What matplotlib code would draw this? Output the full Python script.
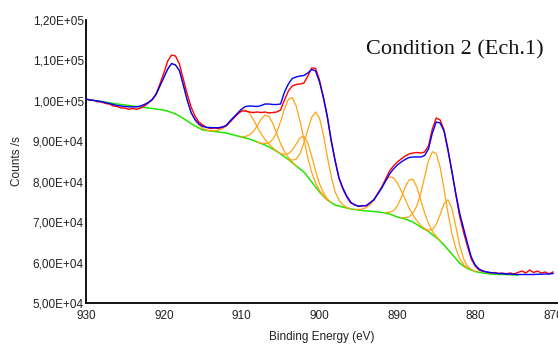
import numpy as np
import matplotlib
matplotlib.use('Agg')
import matplotlib.pyplot as plt
from matplotlib.ticker import FuncFormatter

# Binding energy axis, 0.5 eV steps from 930 down to 870 eV
energy = np.linspace(930, 870, 121)

# Measured spectrum (x1000 counts/s)
raw = [100.46, 100.14, 100.16, 99.77, 99.74, 99.35, 99.22, 98.73, 98.60, 98.23,
       98.23, 97.91, 98.11, 97.91, 98.23, 98.73, 99.47, 100.21, 101.70, 104.17,
       106.89, 109.86, 111.34, 111.09, 109.12, 105.41, 101.70, 98.48, 96.25, 94.77,
       94.03, 93.41, 93.16, 93.29, 93.16, 93.41, 93.78, 94.77, 95.76, 96.75,
       97.49, 97.49, 97.24, 97.12, 97.24, 97.12, 97.24, 97.00, 97.12, 97.24,
       97.74, 100.21, 102.44, 103.67, 104.05, 104.17, 104.42, 106.15, 108.13, 108.00,
       105.16, 100.71, 96.01, 90.07, 85.12, 80.92, 78.20, 76.22, 74.74, 74.36,
       73.87, 74.12, 73.99, 74.86, 75.48, 77.21, 78.69, 80.67, 82.65, 83.89,
       84.88, 85.62, 86.36, 86.86, 87.10, 87.23, 87.10, 87.35, 88.83, 93.04,
       95.76, 95.27, 92.79, 88.09, 82.65, 76.96, 71.52, 67.56, 64.10, 60.88,
       59.15, 58.16, 57.79, 57.67, 57.42, 57.54, 57.30, 57.42, 57.17, 57.42,
       57.17, 57.54, 57.92, 57.42, 58.16, 57.54, 57.92, 57.42, 57.67, 57.17,
       57.67]

# Fit envelope
envelope = [100.46, 100.26, 100.09, 99.96, 99.79, 99.59, 99.35, 99.10, 98.85, 98.73,
            98.60, 98.53, 98.48, 98.53, 98.73, 99.10, 99.59, 100.34, 101.57, 103.67,
            105.78, 107.88, 109.24, 108.87, 107.51, 103.92, 100.21, 97.12, 95.39, 94.28,
            93.66, 93.46, 93.39, 93.36, 93.36, 93.53, 93.90, 95.02, 96.01, 97.00,
            97.99, 98.60, 98.73, 98.68, 98.60, 98.85, 99.22, 99.22, 99.10, 99.10,
            99.22, 102.19, 104.17, 105.53, 105.90, 106.15, 106.27, 106.89, 107.76, 107.39,
            104.66, 100.95, 96.25, 90.32, 85.37, 80.92, 78.45, 76.47, 74.98, 74.24,
            73.99, 73.99, 74.12, 74.74, 75.60, 76.96, 78.45, 80.18, 81.91, 83.14,
            84.13, 84.88, 85.49, 85.99, 86.11, 86.11, 86.11, 86.48, 88.09, 92.05,
            94.77, 94.52, 92.54, 87.84, 82.65, 77.21, 72.26, 68.55, 64.84, 61.38,
            59.40, 58.41, 57.92, 57.67, 57.54, 57.42, 57.30, 57.25, 57.17, 57.17,
            57.10, 57.05, 57.05, 57.05, 57.05, 57.05, 57.10, 57.12, 57.17, 57.17,
            57.30]

# Shirley background (ends at 874.5 eV)
nan = np.nan
background = [100.34, 100.21, 100.09, 99.96, 99.84, 99.67, 99.52, 99.37, 99.22, 99.10,
              98.98, 98.85, 98.73, 98.60, 98.48, 98.36, 98.23, 98.11, 97.99, 97.84,
              97.69, 97.44, 97.12, 96.75, 96.25, 95.64, 95.02, 94.40, 93.78, 93.29,
              92.79, 92.67, 92.54, 92.42, 92.30, 92.17, 92.05, 91.80, 91.55, 91.31,
              91.06, 90.81, 90.57, 90.20, 89.82, 89.45, 89.08, 88.60, 88.09, 87.50,
              86.86, 86.20, 85.50, 84.70, 83.89, 83.14, 82.40, 81.17, 79.93, 78.69,
              77.46, 76.47, 75.48, 74.86, 74.24, 73.99, 73.75, 73.50, 73.25, 73.12,
              73.00, 72.88, 72.76, 72.70, 72.63, 72.52, 72.39, 72.22, 72.01, 71.64,
              71.27, 71.02, 70.78, 70.41, 70.04, 69.42, 68.80, 68.25, 67.69, 66.94,
              66.20, 65.34, 64.35, 63.23, 62.12, 61.01, 59.89, 59.15, 58.53, 58.16,
              57.79, 57.59, 57.42, 57.30, 57.17, 57.10, 57.05, 57.05, 57.05, 57.00,
              56.93, 56.90, nan, nan, nan, nan, nan, nan, nan, nan,
              nan]

# Fitted components: heights above background, starting at the given energy
c919 = [0.05, 0.74, 1.36, 2.23, 3.59, 5.84, 8.09, 10.44, 12.12, 12.12,
        11.25, 8.29, 5.19, 2.72, 1.48, 0.74, 0.37, 0.12, 0.0]
c910 = [0.07, 0.18, 0.43, 0.92, 1.73, 2.92, 4.33, 5.69, 6.65, 6.90,
        6.36, 5.17, 3.76, 2.40, 1.36, 0.69, 0.31, 0.12, 0.04]
c907 = [0.12, 0.39, 1.03, 2.24, 4.03, 6.01, 7.40, 7.54, 6.36, 4.43,
        2.55, 1.21, 0.47, 0.16, 0.04]
c903 = [0.03, 0.12, 0.37, 1.00, 2.35, 4.70, 8.04, 11.82, 14.89, 16.08,
        14.89, 11.82, 8.04, 4.70, 2.35, 1.00, 0.37, 0.12, 0.03]
c902 = [0.17, 0.56, 1.46, 3.12, 5.42, 7.69, 8.88, 8.34, 6.38, 3.98,
        2.03, 0.84, 0.27, 0.07]
c900 = [0.21, 0.64, 1.71, 3.81, 7.25, 11.70, 16.00, 18.55, 18.25, 15.21,
        10.76, 6.46, 3.29, 1.41, 0.52, 0.16, 0.04]
c891 = [0.05, 0.14, 0.36, 0.79, 1.58, 2.84, 4.50, 6.41, 8.14, 9.20,
        9.33, 8.41, 6.78, 4.90, 3.14, 1.81, 0.92, 0.42, 0.17, 0.06]
c888 = [0.13, 0.43, 1.19, 2.70, 5.05, 7.82, 10.02, 10.59, 9.28, 6.70,
        4.01, 1.98, 0.82, 0.27, 0.07]
c885 = [0.10, 0.32, 0.92, 2.18, 4.58, 8.26, 12.91, 17.49, 20.48, 20.78,
        18.25, 13.88, 9.13, 5.19, 2.57, 1.09, 0.40, 0.12]
c883 = [0.07, 0.35, 1.24, 3.24, 6.55, 10.24, 12.29, 11.38, 8.09, 4.43,
        1.86, 0.59, 0.15, 0.02]
comp_starts = [923.0, 914.0, 910.0, 908.0, 905.0, 904.0, 895.5, 891.5, 889.5, 886.5]
components = [c919, c910, c907, c903, c902, c900, c891, c888, c885, c883]

fig = plt.figure(figsize=(5.58, 3.45), dpi=100)
ax = fig.add_axes([86 / 558, 42 / 345, 472 / 558, 283 / 345])

bg = np.array(background) * 1000
ax.plot(energy, bg, color='#22e600', lw=1.1, zorder=2)

for start, comp in zip(comp_starts, components):
    i0 = int(round((930 - start) / 0.5))
    idx = slice(i0, i0 + len(comp))
    ax.plot(energy[idx], bg[idx] + np.array(comp) * 1000,
            color='#ffa414', lw=0.9, zorder=3)

ax.plot(energy, np.array(raw) * 1000, color='#ff0000', lw=1.0, zorder=4)
ax.plot(energy, np.array(envelope) * 1000, color='#0000ff', lw=1.0, zorder=5)

# axis runs a little past 870 so the last label is clipped as in the original
ax.set_xlim(930, 870 - 5 / 7.783)
ax.set_ylim(50000, 120000)
ax.set_xticks(np.arange(930, 869, -10))
ax.set_yticks(np.arange(50000, 120001, 10000))
ax.yaxis.set_major_formatter(FuncFormatter(lambda v, p: f"{v:.2E}".replace('.', ',')))

for s in ['top', 'right']:
    ax.spines[s].set_visible(False)
for s in ['left', 'bottom']:
    ax.spines[s].set_linewidth(1.3)
ax.tick_params(length=0, labelsize=8.5, labelcolor='#222222',
               labelfontfamily='Liberation Sans')
ax.tick_params(axis='y', pad=1.5)
ax.tick_params(axis='x', pad=5)

ax.set_xlabel('Binding Energy (eV)', fontsize=8.5, family='Liberation Sans', color='#222222')
ax.xaxis.set_label_coords(0.5, -0.12)
ax.xaxis.label.set_va('center')
ax.set_ylabel('Counts /s', fontsize=8.5, family='Liberation Sans', color='#222222')
ax.yaxis.set_label_coords(-0.146, 0.5)
ax.yaxis.label.set_va('center')

fig.text(455 / 558, 1 - 50 / 345, 'Condition 2 (Ech.1)', fontsize=16,
         family='Liberation Serif', ha='center', va='center', color='#111111')

fig.savefig('out.png', dpi=100)
